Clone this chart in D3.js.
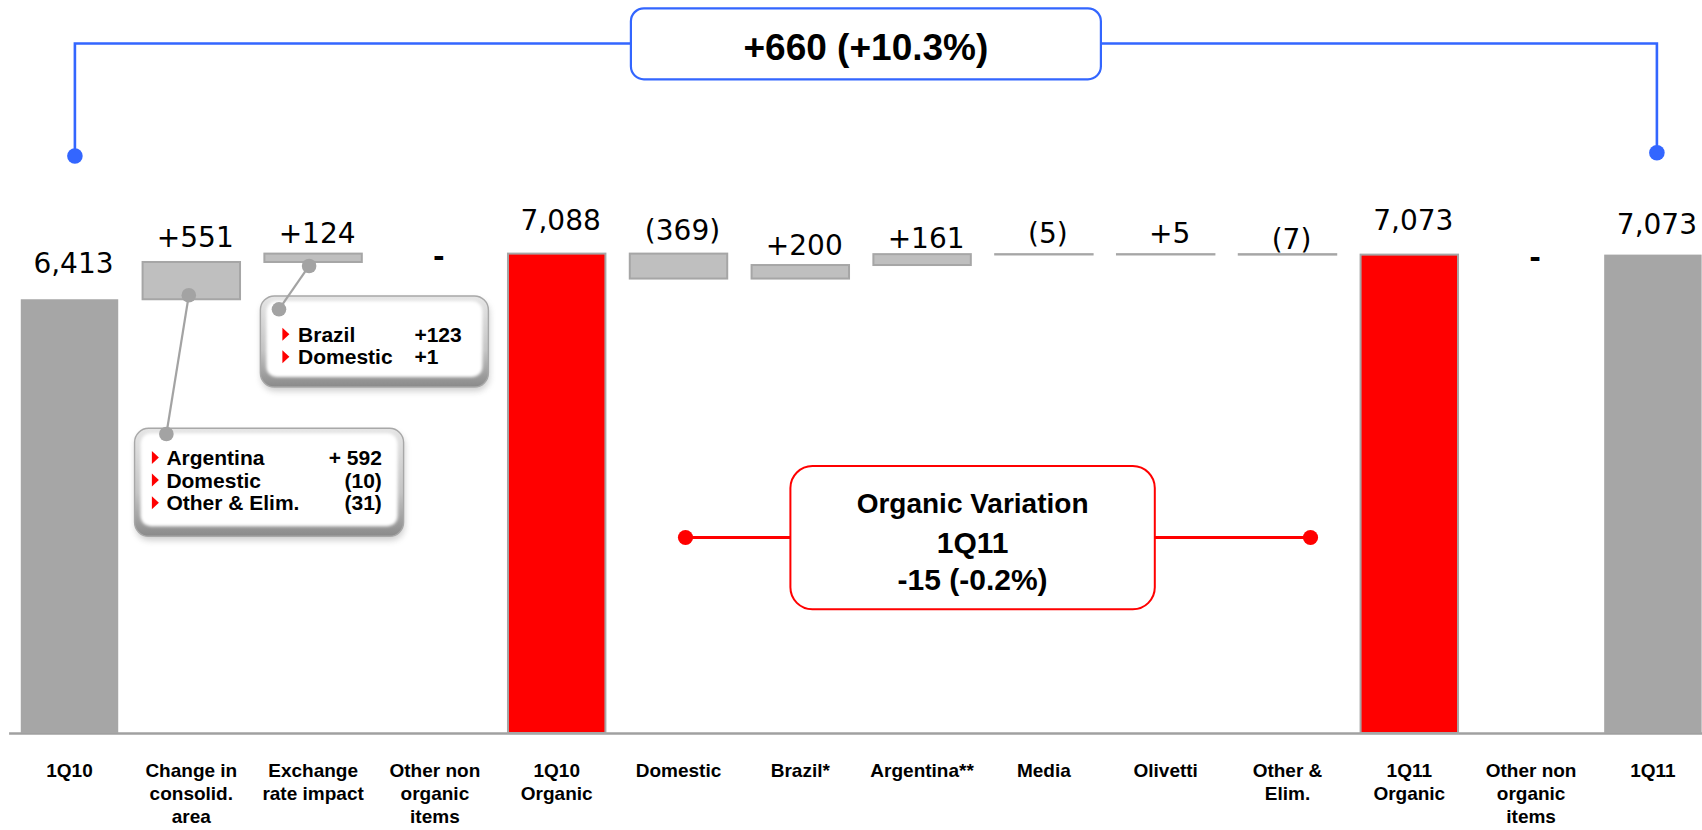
<!DOCTYPE html>
<html>
<head>
<meta charset="utf-8">
<script src="https://cdn.jsdelivr.net/npm/d3@7"></script>
<style>
  html, body { margin: 0; padding: 0; background: #fff; overflow: hidden; }
  svg { display: block; }
</style>
</head>
<body>
<svg id="chart" width="1702" height="830"></svg>
<script>
// ---- Data -------------------------------------------------------------
const categories = [
  ["1Q10"], ["Change in", "consolid.", "area"], ["Exchange", "rate impact"],
  ["Other non", "organic", "items"], ["1Q10", "Organic"], ["Domestic"], ["Brazil*"],
  ["Argentina**"], ["Media"], ["Olivetti"], ["Other &", "Elim."], ["1Q11", "Organic"],
  ["Other non", "organic", "items"], ["1Q11"]
];
const values = [6413, 551, 124, 0, 7088, -369, 200, 161, -5, 5, -7, 7073, 0, 7073];
const barKinds = ["total", "delta", "delta", "delta", "organic", "delta", "delta",
                  "delta", "delta", "delta", "delta", "organic", "delta", "total"];

const exchangeItems = ["Brazil", "Domestic"];
const exchangeValues = ["+123", "+1"];
const consolidItems = ["Argentina", "Domestic", "Other & Elim."];
const consolidValues = ["+ 592", "(10)", "(31)"];

const totalChangeLabel = "+660 (+10.3%)";
const organicChangeLines = ["Organic Variation", "1Q11", "-15 (-0.2%)"];

// ---- Layout -----------------------------------------------------------
const W = 1702, H = 830;
const BASE_Y = 733;
// how far each value label sits above the top of its bar
const labelRaise = [26, 15, 11, -12, 24, 14, 10, 6, 11, 11, 5, 25, -12, 21];

const COL_TOTAL = "#a6a6a6", COL_DELTA = "#bfbfbf", COL_EDGE = "#a6a6a6";
const COL_RED = "#ff0000", COL_BLUE = "#3366ff", COL_LINK = "#a3a3a3";
const SANS = "'Liberation Sans', Arial, sans-serif";
const NUM = "'DejaVu Sans', sans-serif";

const svg = d3.select("#chart");

// waterfall steps
let level = 0;
const steps = values.map((v, i) => {
  let start, end;
  if (barKinds[i] === "delta") { start = level; end = level + v; level = end; }
  else { start = 0; end = v; level = v; }
  return { i, v, kind: barKinds[i], start, end };
});

const x = d3.scaleBand()
  .domain(d3.range(categories.length))
  .range([8.6, 1713.8])
  .paddingInner(0.2)
  .paddingOuter(0.1);
const y = d3.scaleLinear().domain([0, 7088]).range([BASE_Y, 253.6]);
const cx = i => x(i) + x.bandwidth() / 2;

// ---- defs: callout bevel ---------------------------------------------
const defs = svg.append("defs");
const grad = defs.append("linearGradient").attr("id", "bevel")
  .attr("x1", 0).attr("y1", 0).attr("x2", 0).attr("y2", 1);
grad.append("stop").attr("offset", "0%").attr("stop-color", "#e6e6e6");
grad.append("stop").attr("offset", "60%").attr("stop-color", "#c4c4c4");
grad.append("stop").attr("offset", "100%").attr("stop-color", "#8a8a8a");
defs.append("filter").attr("id", "soft").attr("x", "-10%").attr("y", "-10%")
  .attr("width", "120%").attr("height", "120%")
  .append("feGaussianBlur").attr("stdDeviation", 1.8);
defs.append("filter").attr("id", "shadow").attr("x", "-10%").attr("y", "-10%")
  .attr("width", "120%").attr("height", "130%")
  .append("feGaussianBlur").attr("stdDeviation", 3);

// ---- axis -------------------------------------------------------------
const axis = svg.append("g")
  .attr("transform", `translate(0,${BASE_Y})`)
  .call(d3.axisBottom(x).tickSize(0).tickFormat(""));
axis.select(".domain").attr("stroke", "#a0a0a0").attr("stroke-width", 2.5);
axis.selectAll(".tick text").remove();
axis.selectAll(".tick").append("text")
  .attr("fill", "#000")
  .attr("font-family", SANS)
  .attr("font-weight", "bold")
  .attr("font-size", 19)
  .attr("text-anchor", "middle")
  .each(function (d) {
    const t = d3.select(this);
    categories[d].forEach((line, k) => {
      t.append("tspan").attr("x", 0).attr("y", 43.7 + k * 23.3).text(line);
    });
  });

// ---- bars -------------------------------------------------------------
const bars = steps.filter(s => s.v !== 0);
svg.append("g").selectAll("rect").data(bars).join("rect")
  .attr("x", d => x(d.i))
  .attr("width", x.bandwidth())
  .attr("y", d => y(Math.max(d.start, d.end)))
  .attr("height", d => Math.abs(y(d.start) - y(d.end)))
  .attr("fill", d => d.kind === "total" ? COL_TOTAL : d.kind === "organic" ? COL_RED : COL_DELTA)
  .attr("stroke", d => d.kind === "total" ? "none" : COL_EDGE)
  .attr("stroke-width", d => d.kind === "total" ? 0 : 2);

// ---- value labels -----------------------------------------------------
const fmtTotal = d3.format(",");
const fmtValue = s => {
  if (s.kind !== "delta") return fmtTotal(s.v);
  if (s.v > 0) return "+" + s.v;
  if (s.v < 0) return "(" + (-s.v) + ")";
  return "-";
};
svg.append("g").selectAll("text").data(steps).join("text")
  .attr("x", d => cx(d.i) + 4)
  .attr("y", d => y(Math.max(d.start, d.end)) - labelRaise[d.i])
  .attr("text-anchor", "middle")
  .attr("font-family", NUM)
  .attr("font-size", 28)
  .attr("font-weight", d => d.v === 0 ? "bold" : "normal")
  .attr("fill", "#000")
  .text(fmtValue);

// ---- callouts ---------------------------------------------------------
function drawCallout(x0, y0, w, h) {
  const g = svg.append("g");
  g.append("rect").attr("x", x0 + 1).attr("y", y0 + 4).attr("width", w).attr("height", h)
    .attr("rx", 14).attr("fill", "#6f6f6f").attr("opacity", 0.35).attr("filter", "url(#shadow)");
  g.append("rect").attr("x", x0).attr("y", y0).attr("width", w).attr("height", h)
    .attr("rx", 14).attr("fill", "url(#bevel)").attr("stroke", "#a8a8a8").attr("stroke-width", 1.4);
  g.append("rect").attr("x", x0 + 6).attr("y", y0 + 5).attr("width", w - 12).attr("height", h - 15)
    .attr("rx", 10).attr("fill", "#fff").attr("filter", "url(#soft)");
  return g;
}
function drawRows(g, x0, y0, items, vals, opts) {
  items.forEach((name, k) => {
    const by = y0 + k * 22.6;
    g.append("path")
      .attr("d", `M${x0},${by - 14} L${x0 + 7},${by - 7.5} L${x0},${by - 1} Z`)
      .attr("fill", COL_RED);
    g.append("text").attr("x", x0 + opts.textDx).attr("y", by)
      .attr("font-family", SANS).attr("font-weight", "bold").attr("font-size", 21)
      .attr("fill", "#000").text(name);
    g.append("text").attr("x", x0 + opts.valDx).attr("y", by)
      .attr("text-anchor", opts.valAnchor)
      .attr("font-family", SANS).attr("font-weight", "bold").attr("font-size", 21)
      .attr("fill", "#000").text(vals[k]);
  });
}
function connector(p, q) {
  const g = svg.append("g");
  g.append("line").attr("x1", p[0]).attr("y1", p[1]).attr("x2", q[0]).attr("y2", q[1])
    .attr("stroke", COL_LINK).attr("stroke-width", 2.2);
  [p, q].forEach(pt => g.append("circle").attr("cx", pt[0]).attr("cy", pt[1]).attr("r", 7.3)
    .attr("fill", COL_LINK));
}

// exchange rate breakdown
const bx1 = x(2) - 4, by1 = 296;
const c1 = drawCallout(bx1, by1, 228, 91);
drawRows(c1, bx1 + 22, by1 + 45.7, exchangeItems, exchangeValues,
  { textDx: 15.7, valDx: 132, valAnchor: "start" });
connector([cx(2) - 4, y(steps[2].start) + 4], [bx1 + 18.6, by1 + 13.3]);

// consolidation area breakdown
const bx2 = x(1) - 8, by2 = 428.3;
const c2 = drawCallout(bx2, by2, 269, 108);
drawRows(c2, bx2 + 17.3, by2 + 36.7, consolidItems, consolidValues,
  { textDx: 14.5, valDx: 230, valAnchor: "end" });
connector([cx(1) - 2.5, y(steps[1].start) - 4], [bx2 + 31.8, by2 + 5.7]);

// ---- total change bracket ---------------------------------------------
const topY = 43.5;
const lx = cx(0) + 5.4, rx = cx(13) + 4;
const blue = svg.append("g");
blue.append("path")
  .attr("d", `M${lx},156 V${topY} H${rx} V152.7`)
  .attr("fill", "none").attr("stroke", COL_BLUE).attr("stroke-width", 2.6);
blue.append("circle").attr("cx", lx).attr("cy", 156).attr("r", 7.8).attr("fill", COL_BLUE);
blue.append("circle").attr("cx", rx).attr("cy", 152.7).attr("r", 7.8).attr("fill", COL_BLUE);
const midX = (lx + rx) / 2;
blue.append("rect").attr("x", midX - 235).attr("y", 8.3).attr("width", 470).attr("height", 71)
  .attr("rx", 13).attr("fill", "#fff").attr("stroke", COL_BLUE).attr("stroke-width", 2.2);
blue.append("text").attr("x", midX).attr("y", 60).attr("text-anchor", "middle")
  .attr("font-family", SANS).attr("font-weight", "bold").attr("font-size", 37)
  .attr("fill", "#000").text(totalChangeLabel);

// ---- organic variation bracket ----------------------------------------
const orgY = 537.5;
const olx = cx(5) + 7, orx = cx(10) + 23;
const red = svg.append("g");
red.append("line").attr("x1", olx).attr("y1", orgY).attr("x2", orx).attr("y2", orgY)
  .attr("stroke", COL_RED).attr("stroke-width", 3);
red.append("circle").attr("cx", olx).attr("cy", orgY).attr("r", 7.6).attr("fill", COL_RED);
red.append("circle").attr("cx", orx).attr("cy", orgY).attr("r", 7.6).attr("fill", COL_RED);
red.append("rect").attr("x", 790.4).attr("y", 466).attr("width", 364.4).attr("height", 143.3)
  .attr("rx", 22).attr("fill", "#fff").attr("stroke", COL_RED).attr("stroke-width", 2);
const orgBaselines = [513.3, 553.3, 589.5];
const orgSizes = [28, 30, 30];
organicChangeLines.forEach((t, k) => {
  red.append("text").attr("x", 972.6).attr("y", orgBaselines[k]).attr("text-anchor", "middle")
    .attr("font-family", SANS).attr("font-weight", "bold").attr("font-size", orgSizes[k])
    .attr("fill", "#000").text(t);
});
</script>
</body>
</html>
